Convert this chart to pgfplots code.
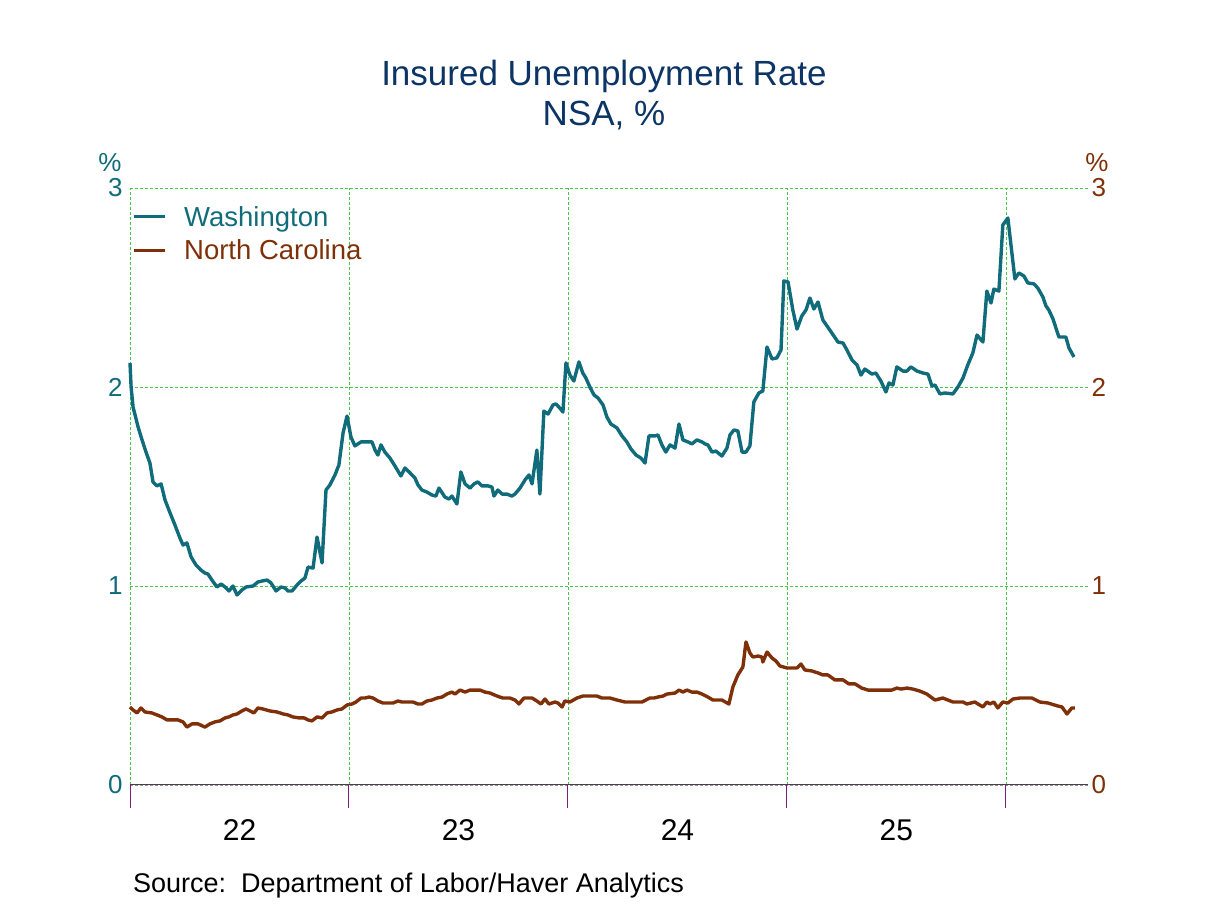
\documentclass[border=0pt]{standalone}
\usepackage{fontspec}
\setmainfont{Liberation Sans}
\usepackage{pgfplots}
\pgfplotsset{compat=1.18}
\definecolor{wa}{RGB}{16,108,122}
\definecolor{nc}{RGB}{128,48,8}
\definecolor{ttl}{RGB}{12,52,100}
\definecolor{grd}{RGB}{70,200,70}
\definecolor{axc}{RGB}{120,30,120}
\pgfplotstableread{
x y
2022.000 2.121
2022.005 2.000
2022.014 1.899
2022.037 1.799
2022.055 1.734
2022.073 1.673
2022.091 1.618
2022.105 1.523
2022.123 1.503
2022.142 1.513
2022.160 1.432
2022.183 1.367
2022.205 1.307
2022.228 1.241
2022.242 1.206
2022.260 1.216
2022.279 1.146
2022.301 1.106
2022.324 1.080
2022.342 1.065
2022.356 1.060
2022.374 1.030
2022.397 0.995
2022.416 1.010
2022.434 0.995
2022.452 0.975
2022.470 1.000
2022.489 0.955
2022.511 0.980
2022.530 0.995
2022.562 1.000
2022.584 1.020
2022.603 1.025
2022.626 1.030
2022.644 1.015
2022.667 0.975
2022.689 0.995
2022.708 0.990
2022.721 0.975
2022.740 0.975
2022.763 1.005
2022.781 1.025
2022.799 1.040
2022.813 1.095
2022.836 1.090
2022.854 1.246
2022.877 1.116
2022.895 1.482
2022.913 1.508
2022.936 1.558
2022.954 1.608
2022.973 1.769
2022.991 1.854
2023.009 1.749
2023.027 1.704
2023.055 1.724
2023.087 1.724
2023.105 1.724
2023.119 1.683
2023.132 1.658
2023.146 1.709
2023.164 1.673
2023.187 1.643
2023.210 1.603
2023.237 1.553
2023.256 1.593
2023.279 1.568
2023.301 1.543
2023.315 1.508
2023.333 1.482
2023.356 1.472
2023.379 1.457
2023.397 1.452
2023.411 1.492
2023.438 1.447
2023.457 1.437
2023.470 1.452
2023.493 1.412
2023.511 1.573
2023.530 1.513
2023.553 1.492
2023.571 1.513
2023.589 1.523
2023.607 1.503
2023.635 1.503
2023.653 1.497
2023.662 1.452
2023.680 1.482
2023.699 1.462
2023.721 1.462
2023.744 1.452
2023.758 1.462
2023.781 1.492
2023.804 1.533
2023.822 1.558
2023.836 1.513
2023.858 1.683
2023.872 1.462
2023.890 1.879
2023.909 1.864
2023.932 1.910
2023.945 1.915
2023.963 1.894
2023.977 1.874
2023.991 2.121
2024.009 2.060
2024.027 2.030
2024.050 2.126
2024.068 2.070
2024.082 2.045
2024.100 2.000
2024.119 1.960
2024.137 1.945
2024.160 1.910
2024.178 1.849
2024.196 1.814
2024.224 1.794
2024.247 1.754
2024.269 1.724
2024.288 1.688
2024.311 1.658
2024.333 1.643
2024.352 1.618
2024.370 1.754
2024.397 1.754
2024.411 1.759
2024.429 1.709
2024.447 1.673
2024.466 1.709
2024.489 1.693
2024.507 1.814
2024.525 1.734
2024.548 1.724
2024.566 1.714
2024.589 1.734
2024.612 1.724
2024.626 1.714
2024.639 1.709
2024.658 1.673
2024.676 1.678
2024.703 1.653
2024.726 1.693
2024.740 1.759
2024.758 1.784
2024.776 1.779
2024.795 1.673
2024.813 1.673
2024.831 1.704
2024.849 1.925
2024.872 1.970
2024.890 1.980
2024.909 2.201
2024.932 2.141
2024.954 2.146
2024.973 2.186
2024.986 2.533
2025.005 2.528
2025.027 2.387
2025.046 2.291
2025.068 2.357
2025.087 2.387
2025.105 2.447
2025.123 2.392
2025.142 2.427
2025.164 2.337
2025.196 2.286
2025.233 2.226
2025.256 2.221
2025.274 2.186
2025.297 2.136
2025.320 2.111
2025.338 2.060
2025.356 2.090
2025.388 2.065
2025.406 2.070
2025.429 2.030
2025.452 1.975
2025.466 2.020
2025.484 2.010
2025.502 2.101
2025.530 2.080
2025.548 2.080
2025.566 2.101
2025.594 2.080
2025.621 2.070
2025.644 2.065
2025.662 2.005
2025.676 2.010
2025.699 1.965
2025.721 1.970
2025.758 1.965
2025.781 2.000
2025.804 2.045
2025.826 2.111
2025.849 2.171
2025.868 2.261
2025.895 2.226
2025.913 2.482
2025.932 2.422
2025.945 2.492
2025.968 2.482
2025.986 2.814
2026.009 2.849
2026.041 2.543
2026.059 2.573
2026.082 2.558
2026.100 2.523
2026.128 2.518
2026.146 2.497
2026.169 2.452
2026.183 2.407
2026.196 2.387
2026.215 2.342
2026.242 2.251
2026.274 2.251
2026.288 2.196
2026.311 2.151
}\wadata
\pgfplotstableread{
x y
2022.000 0.392
2022.014 0.377
2022.032 0.362
2022.050 0.387
2022.068 0.367
2022.100 0.362
2022.123 0.352
2022.146 0.342
2022.169 0.327
2022.219 0.327
2022.242 0.317
2022.260 0.291
2022.283 0.307
2022.311 0.307
2022.342 0.291
2022.365 0.307
2022.388 0.317
2022.411 0.322
2022.434 0.337
2022.452 0.342
2022.470 0.352
2022.489 0.357
2022.511 0.372
2022.530 0.382
2022.548 0.372
2022.566 0.362
2022.584 0.387
2022.607 0.382
2022.639 0.372
2022.671 0.367
2022.699 0.357
2022.721 0.352
2022.744 0.342
2022.772 0.337
2022.795 0.337
2022.813 0.327
2022.831 0.322
2022.854 0.342
2022.877 0.337
2022.900 0.362
2022.922 0.367
2022.945 0.377
2022.968 0.382
2022.991 0.402
2023.014 0.407
2023.032 0.417
2023.055 0.437
2023.073 0.437
2023.091 0.442
2023.110 0.437
2023.132 0.422
2023.155 0.412
2023.201 0.412
2023.224 0.422
2023.242 0.417
2023.292 0.417
2023.315 0.407
2023.333 0.407
2023.356 0.422
2023.379 0.427
2023.402 0.437
2023.425 0.442
2023.447 0.457
2023.470 0.467
2023.484 0.457
2023.507 0.477
2023.530 0.467
2023.553 0.477
2023.598 0.477
2023.621 0.467
2023.644 0.462
2023.676 0.447
2023.703 0.437
2023.735 0.437
2023.758 0.427
2023.776 0.407
2023.799 0.437
2023.836 0.437
2023.858 0.422
2023.877 0.407
2023.895 0.432
2023.913 0.407
2023.941 0.417
2023.954 0.412
2023.973 0.392
2023.986 0.422
2024.009 0.417
2024.041 0.437
2024.068 0.447
2024.132 0.447
2024.155 0.437
2024.192 0.437
2024.224 0.427
2024.260 0.417
2024.338 0.417
2024.374 0.437
2024.393 0.437
2024.411 0.442
2024.434 0.447
2024.452 0.457
2024.489 0.462
2024.507 0.477
2024.525 0.467
2024.543 0.477
2024.566 0.467
2024.589 0.467
2024.612 0.457
2024.639 0.442
2024.662 0.427
2024.703 0.427
2024.735 0.407
2024.753 0.492
2024.776 0.553
2024.799 0.593
2024.813 0.719
2024.831 0.663
2024.845 0.643
2024.868 0.648
2024.886 0.643
2024.890 0.618
2024.909 0.668
2024.932 0.638
2024.950 0.623
2024.968 0.598
2025.000 0.588
2025.046 0.588
2025.064 0.608
2025.082 0.578
2025.114 0.573
2025.142 0.563
2025.164 0.553
2025.187 0.553
2025.219 0.528
2025.256 0.528
2025.283 0.508
2025.311 0.508
2025.342 0.487
2025.370 0.477
2025.479 0.477
2025.502 0.487
2025.521 0.482
2025.548 0.487
2025.575 0.482
2025.607 0.472
2025.639 0.457
2025.676 0.427
2025.712 0.437
2025.758 0.417
2025.804 0.417
2025.822 0.407
2025.858 0.417
2025.895 0.392
2025.913 0.417
2025.927 0.407
2025.945 0.417
2025.963 0.387
2025.986 0.417
2026.009 0.412
2026.032 0.432
2026.064 0.437
2026.119 0.437
2026.155 0.417
2026.192 0.412
2026.237 0.397
2026.256 0.392
2026.279 0.357
2026.301 0.387
2026.315 0.387
}\ncdata
\begin{document}
\begin{tikzpicture}[x=1bp,y=1bp]
\path[use as bounding box] (0,0) rectangle (1208,906);
\begin{axis}[
  at={(130bp,121bp)}, anchor=south west,
  scale only axis, width=958bp, height=597bp,
  xmin=2022, xmax=2026.375, ymin=0, ymax=3,
  axis x line*=bottom, axis y line*=left,
  x axis line style={draw=axc, line width=1bp, -},
  y axis line style={draw=none},
  xtick={2022,2023,2024,2025,2026},
  xticklabels={22,23,24,25,{}},
  tick align=outside,
  xtick style={draw=axc, line width=1bp},
  major tick length=23bp,
  xticklabel style={font=\fontsize{30bp}{34bp}\selectfont, text=black, xshift=109.5bp, yshift=-8bp},
  xmajorgrids=true,
  ytick={0,1,2,3},
  ytick style={draw=none},
  yticklabel style={font=\fontsize{26bp}{30bp}\selectfont, text=wa, xshift=19bp},
  ymajorgrids=true,
  major grid style={draw=grd, line width=0.8bp, dash pattern=on 3bp off 2bp},
  /pgf/number format/assume math mode=true,
  legend style={at={(0,1)}, anchor=north west, xshift=0bp, yshift=-14bp, draw=none, fill=none,
     font=\fontsize{27.5bp}{34bp}\selectfont, row sep=8bp, inner sep=2bp,
     /tikz/every even column/.append style={column sep=0bp}},
  legend cell align=left,
  legend image code/.code={\draw[#1, line width=3bp] (0bp,0bp) -- (31bp,0bp);},
  clip=false,
]
\addplot[wa, line width=3.4bp, line join=round] table[x=x,y=y]{\wadata};
\addlegendentry{\hspace{16bp}\textcolor{wa}{Washington}}
\addplot[nc, line width=3.4bp, line join=round] table[x=x,y=y]{\ncdata};
\addlegendentry{\hspace{16bp}\textcolor{nc}{North Carolina}}
\end{axis}
\begin{axis}[
  at={(130bp,121bp)}, anchor=south west,
  scale only axis, width=958bp, height=597bp,
  xmin=2022, xmax=2026.375, ymin=0, ymax=3,
  hide x axis,
  axis y line*=right,
  y axis line style={draw=none},
  ytick={0,1,2,3},
  ytick style={draw=none},
  major tick length=0bp,
  yticklabel style={font=\fontsize{26bp}{30bp}\selectfont, text=nc, xshift=0bp},
  /pgf/number format/assume math mode=true,
]
\end{axis}
\node[font=\fontsize{35bp}{40bp}\selectfont, text=ttl] at (604,830) {Insured Unemployment Rate};
\node[font=\fontsize{35bp}{40bp}\selectfont, text=ttl] at (604,790) {NSA, \%};
\node[font=\fontsize{26bp}{30bp}\selectfont, text=wa] at (110,743) {\%};
\node[font=\fontsize{26bp}{30bp}\selectfont, text=nc] at (1097,743) {\%};
\node[font=\fontsize{27bp}{31bp}\selectfont, text=black, anchor=west, inner sep=0pt] at (133,20) {Source:\ \ Department of Labor/Haver Analytics};
\end{tikzpicture}
\end{document}
